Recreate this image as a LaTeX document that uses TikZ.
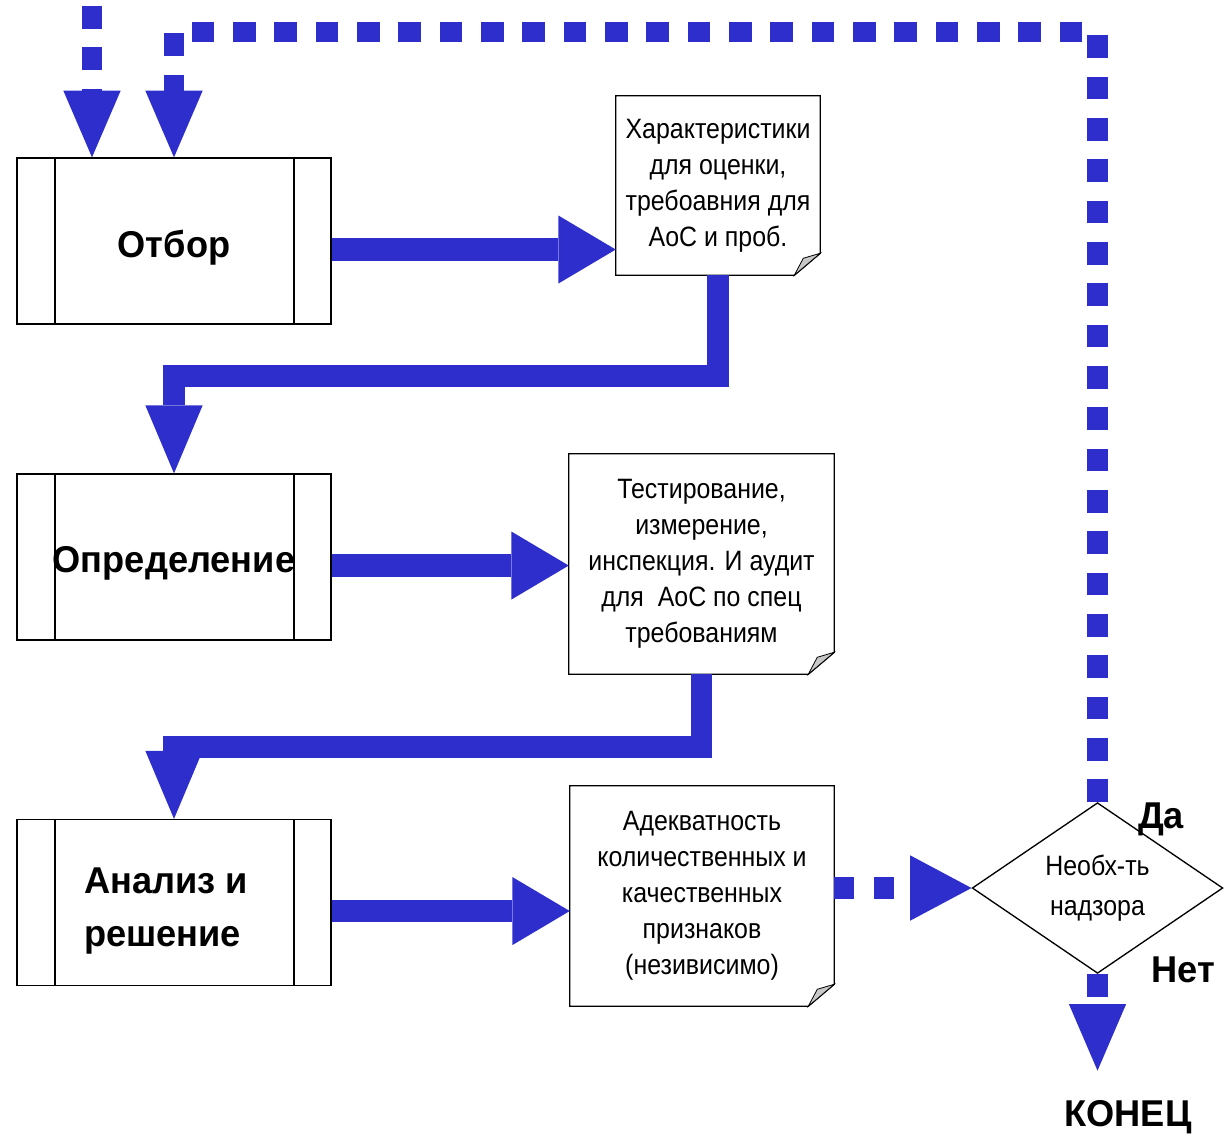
\documentclass[tikz,border=0pt]{standalone}
\usepackage{fontspec}
\setmainfont[FakeStretch=0.97]{Liberation Sans}
\newfontfamily\narrowfont[FakeStretch=0.89]{Liberation Sans}
\usetikzlibrary{arrows.meta,shapes.geometric}
\definecolor{flowblue}{RGB}{46,46,204}
\definecolor{curlgray}{RGB}{200,200,200}

\begin{document}
\begin{tikzpicture}[x=0.75pt,y=0.75pt,yscale=-1,xscale=1,
	procbox/.style={draw,line width=1pt,minimum width=235.5pt,minimum height=124.5pt,inner sep=0pt,align=center,font=\bfseries\fontsize{28}{40}\selectfont,
		path picture={\draw[line width=1pt] ([xshift=28.5pt]path picture bounding box.south west) -- ([xshift=28.5pt]path picture bounding box.north west) ([xshift=-27.75pt]path picture bounding box.south east) -- ([xshift=-27.75pt]path picture bounding box.north east);}},
	notebox/.style={inner sep=0pt,align=center,font=\narrowfont\fontsize{21}{27}\selectfont},
	decbox/.style={draw,diamond,line width=1pt,inner sep=0pt,minimum width=188pt,minimum height=122pt,align=center,font=\narrowfont\fontsize{21}{30}\selectfont},
	answer/.style={inner sep=0pt,font=\bfseries\fontsize{28}{34}\selectfont},
	bigflow/.style={flowblue,line width=17pt,-{Triangle[length=43pt,width=51pt,line width=0pt]}},
	bigbend/.style={flowblue,line width=16pt,-{Triangle[length=51pt,width=43pt,line width=0pt]}},
	dotflow/.style={flowblue,line width=15.5pt,dash pattern=on 17pt off 14pt,-{Triangle[length=50pt,width=43pt,line width=0pt]}},
	dotflowh/.style={flowblue,line width=17pt,dash pattern=on 15pt off 14.5pt,-{Triangle[length=46pt,width=49pt,line width=0pt]}},
	]
	\useasboundingbox (0,0) rectangle (1226,1139);
	
	%Shape: Predefined process
	\node [procbox] (sel) at (174,241) {\raisebox{-5pt}[\height][\depth]{Отбор}};
	%Shape: Predefined process
	\node [procbox] (def) at (174,557) {\raisebox{-5pt}[\height][\depth]{Определение}};
	%Shape: Predefined process
	\node [procbox] (anl) at (174,902.5) {\raisebox{-5pt}[\height][\depth]{\hspace*{-12pt}\begin{tabular}{@{}l@{}}Анализ и\\решение\end{tabular}}};
	
	%Shape: Document
	\node [notebox,minimum width=153pt,minimum height=134.25pt] (crit) at (718,185.5) {Характеристики\\для оценки,\\требоавния для\\АоС и проб.};
	%Shape: Document
	\node [notebox,minimum width=198.75pt,minimum height=165pt] (test) at (701.5,564) {Тестирование,\\измерение,\\инспекция. И аудит\\для\ \ АоС по спец\\требованиям};
	%Shape: Document
	\node [notebox,minimum width=198pt,minimum height=165pt] (adeq) at (702,896) {Адекватность\\количественных и\\качественных\\признаков\\(незивисимо)};
	\foreach \n in {crit,test,adeq}{
		\draw [line width=1pt] (\n.north west) -- (\n.north east) -- ([yshift=-16.5pt]\n.south east) -- ([xshift=-19.5pt]\n.south east) -- (\n.south west) -- cycle;
		\filldraw [fill=curlgray,line width=0.6pt] ([yshift=-16.5pt]\n.south east) -- ([xshift=-19.5pt]\n.south east) -- ([xshift=-12.75pt,yshift=-12.75pt]\n.south east) -- cycle;
	}
	
	%Shape: Decision
	\node [decbox] (dec) at (1097.5,888) {Необх-ть\\надзора};
	
	% Text Node
	\node [answer] (yes) at (1161,819) {Да};
	% Text Node
	\node [answer] (no) at (1183,970) {Нет};
	% Text Node
	\node [answer] (stop) at (1128,1117) {КОНЕЦ};
	
	%Straight Lines
	\coordinate (o1) at ([yshift=6.4pt]sel.east);
	\draw [bigflow] (o1) -- (o1 -| crit.west);
	\coordinate (o2) at ([yshift=6.4pt]def.east);
	\draw [bigflow] (o2) -- (o2 -| test.west);
	\coordinate (o3) at ([yshift=6.4pt]anl.east);
	\draw [bigflow] (o3) -- (o3 -| adeq.west);
	%Elbow Lines
	\draw [bigbend] (crit.south) -- (crit.south |- 0,376) -| (def.north);
	\draw [bigbend] (test.south) -- (test.south |- 0,747) -| (anl.north);
	
	%Dashed Lines
	\coordinate (src) at (92,6);
	\draw [dotflow] (src) -- (src |- sel.north);
	\coordinate (ret) at (174,32);
	\draw [dotflow] (dec.north) |- (ret) -- (sel.north);
	\draw [dotflowh] (adeq.east |- dec.west) -- (dec.west);
	\draw [dotflow,shorten >=22pt] (dec.south) -- (dec.south |- stop.north);
	
\end{tikzpicture}
\end{document}
